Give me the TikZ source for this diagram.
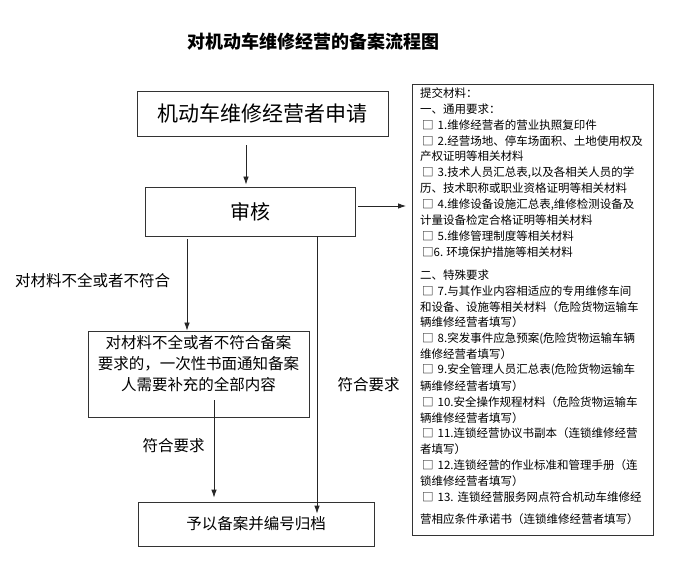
\documentclass[tikz,border=0pt]{standalone}
\usepackage{fontspec}
\setmainfont{Noto Sans CJK SC}
\usetikzlibrary{arrows.meta,calc}
\XeTeXinterchartokenstate=1
\newcommand\cjkglue{\hskip0pt plus 3pt minus 1.2pt\relax}
\XeTeXinterchartoks 1 1 = {\cjkglue}
\XeTeXinterchartoks 1 2 = {\cjkglue}
\XeTeXinterchartoks 1 3 = {\cjkglue}
\XeTeXinterchartoks 2 1 = {\cjkglue}
\XeTeXinterchartoks 3 1 = {\cjkglue}
\XeTeXinterchartoks 3 2 = {\cjkglue}
\XeTeXinterchartoks 0 1 = {\cjkglue}
\XeTeXinterchartoks 0 2 = {\cjkglue}
\XeTeXinterchartoks 3 0 = {\cjkglue}
\XeTeXinterchartoks 1 0 = {\cjkglue}
\newcommand\panelfont{\fontsize{11.5}{14}\selectfont}
\newcommand\bxs{□\kern4pt}
\newcommand\plnat[4]{\node[pline] (#1) at (#2,#3) {#4};}
\newcommand\plfull[5]{\node[pline] (#1) at (#2,#3) {\makebox[#4pt][s]{#5}};}
\begin{document}
\begin{tikzpicture}[x=1pt,y=-1pt,
  box/.style={draw=black!80, line width=0.8pt, inner sep=0pt, align=center},
  arr/.style={-{Latex[length=8pt,width=5.5pt]}, line width=0.8pt, draw=black!85},
  lab/.style={font=\fontsize{15.5}{18}\selectfont, inner sep=0pt},
  pline/.style={anchor=west, inner sep=0pt, font=\panelfont}]
\useasboundingbox[fill=white] (0,0) rectangle (681,588);

% title
\node[font=\fontsize{18}{20}\selectfont\bfseries, inner sep=0pt] (title) at (313.5,42) {对机动车维修经营的备案流程图};

% boxes
\node[box, minimum width=251pt, minimum height=45pt, font=\fontsize{21}{24}\selectfont] (b1) at (262.5,113.5) {机动车维修经营者申请};
\node[box, minimum width=210pt, minimum height=49pt, font=\fontsize{20}{24}\selectfont] (b2) at (250,211.5) {审核};
\node[box, minimum width=221pt, minimum height=86pt] (b3) at (198.5,374) {};
\node[lab, align=center, font=\fontsize{15.5}{21}\selectfont] (b3t) at (198.5,364) {对材料不全或者不符合备案\\要求的，一次性书面通知备案\\人需要补充的全部内容};
\node[box, minimum width=236pt, minimum height=44pt, font=\fontsize{15.5}{18}\selectfont] (b4) at (256,524) {予以备案并编号归档};
\node[box, anchor=north west, minimum width=241pt, minimum height=451pt] (pn) at (412,84) {};

% helper coordinates
\coordinate (xa) at (246,0);
\coordinate (ya) at (0,206);
\coordinate (xb) at (187,0);
\coordinate (xc) at (317,0);
\coordinate (xd) at (214,0);

% connectors
\draw[arr, shorten <=9pt, shorten >=2pt] (b1.south -| xa) -- (b2.north -| xa);
\draw[arr, shorten <=3pt, shorten >=6pt] (b2.east |- ya) -- (pn.west |- ya);
\draw[arr, shorten <=3pt] (b2.south -| xb) -- (b3.north -| xb);
\draw[arr, shorten >=-12pt] (b2.south -| xc) -- (b4.north -| xc);
\draw[arr, shorten <=-17pt, shorten >=4pt] (b3.south -| xd) -- (b4.north -| xd);

% labels
\node[lab, anchor=west] (l1) at (15,281) {对材料不全或者不符合};
\node[lab] (l2) at (173.5,446) {符合要求};
\node[lab] (l3) at (368.5,385) {符合要求};

% panel text
\plnat{p1}{420}{93}{提交材料：}
\plnat{p2}{420}{108.9}{一、通用要求：}
\plnat{p3}{422}{124.8}{\bxs 1.维修经营者的营业执照复印件}
\plfull{p4}{422}{140.7}{224}{\bxs 2.经营场地、停车场面积、土地使用权及}
\plnat{p5}{420}{156.6}{产权证明等相关材料}
\plfull{p6}{422}{172.5}{224}{\bxs 3.技术人员汇总表,以及各相关人员的学}
\plfull{p7}{420}{188.4}{224}{历、技术职称或职业资格证明等相关材料}
\plfull{p8}{422}{204.3}{224}{\bxs 4.维修设备设施汇总表,维修检测设备及}
\plnat{p9}{420}{220.2}{计量设备检定合格证明等相关材料}
\plnat{p10}{422}{236.1}{\bxs 5.维修管理制度等相关材料}
\plnat{p11}{422}{252}{□6.\kern3pt 环境保护措施等相关材料}
\plnat{p12}{420}{275}{二、特殊要求}
\plfull{p13}{422}{290.9}{226}{\bxs 7.与其作业内容相适应的专用维修车间}
\plfull{p14}{420}{306.7}{229}{和设备、设施等相关材料（危险货物运输车}
\plnat{p15}{420}{322.6}{辆维修经营者填写）}
\plfull{p16}{422}{338.4}{226}{\bxs 8.突发事件应急预案(危险货物运输车辆}
\plnat{p17}{420}{354.3}{维修经营者填写）}
\plfull{p18}{422}{370.2}{221}{\bxs 9.安全管理人员汇总表(危险货物运输车}
\plnat{p19}{420}{386}{辆维修经营者填写）}
\plfull{p20}{422}{401.9}{222}{\bxs 10.安全操作规程材料（危险货物运输车}
\plnat{p21}{420}{417.7}{辆维修经营者填写）}
\plfull{p22}{422}{433.6}{223}{\bxs 11.连锁经营协议书副本（连锁维修经营}
\plnat{p23}{420}{449.5}{者填写）}
\plfull{p24}{422}{465.3}{223}{\bxs 12.连锁经营的作业标准和管理手册（连}
\plnat{p25}{420}{481.2}{锁维修经营者填写）}
\plfull{p26}{422}{497}{223}{\bxs 13.\kern4pt 连锁经营服务网点符合机动车维修经}
\plfull{p27}{420}{519}{222}{营相应条件承诺书（连锁维修经营者填写）}
\end{tikzpicture}
\end{document}
